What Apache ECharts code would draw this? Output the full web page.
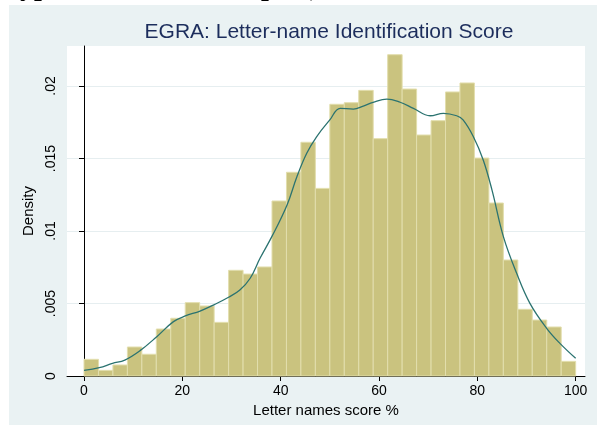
<!DOCTYPE html>
<html>
<head>
<meta charset="utf-8">
<script src="https://cdn.jsdelivr.net/npm/echarts@6/dist/echarts.min.js"></script>
<style>
  html, body { margin: 0; padding: 0; background: #fff; }
  #chart { width: 597px; height: 425px; }
</style>
</head>
<body>
<div id="chart"></div>
<script>
// histogram: 34 bins from 0 to 100, density per bin
var binStart = 0
var binWidth = 100 / 34
var binDensity = [
  0.00115, 0.00039, 0.00076, 0.0020, 0.0015, 0.00324, 0.00398, 0.00506, 0.00483, 0.0037,
  0.00729, 0.00703, 0.00752, 0.01207, 0.01405, 0.01612, 0.01294, 0.01874, 0.01885, 0.0197,
  0.01637, 0.02216, 0.01979, 0.01662, 0.01761, 0.01959, 0.02021, 0.01503, 0.01193, 0.0080,
  0.0046, 0.00386, 0.00338, 0.00101
]

// kernel density curve
var kdeX = [0, 3.1, 5.8, 8.3, 11.4, 14.8, 18.2, 20.6, 23.6, 26.6, 29.4, 31.7, 33.8, 35.8, 38.2,
  41.3, 43.3, 45.3, 47.3, 50, 52.1, 54.8, 56.8, 58.8, 61.6, 64.3, 67, 70.4, 73.1, 75.8, 77.1,
  79.2, 81.2, 83, 85.3, 88, 90.7, 94.1, 96.8, 100]
var kdeY = [0.00039, 0.00057, 0.00087, 0.0011, 0.00175, 0.00271, 0.00375, 0.00414, 0.00448, 0.00494,
  0.00543, 0.00593, 0.00674, 0.00812, 0.00961, 0.0118, 0.01374, 0.01536, 0.0165, 0.01766, 0.01846,
  0.01841, 0.01862, 0.01888, 0.0191, 0.01888, 0.01846, 0.01795, 0.01812, 0.01795, 0.01766, 0.0165,
  0.0149, 0.0128, 0.00961, 0.00708, 0.00501, 0.00329, 0.00225, 0.00122]

var xTicks = [0, 20, 40, 60, 80, 100]
var yTicks = [0, 0.005, 0.01, 0.015, 0.02]

var FONT = 'Liberation Sans, Arial, Helvetica, sans-serif'

var barData = binDensity.map(function (d, i) {
  return [binStart + i * binWidth, binStart + (i + 1) * binWidth, d]
})
var lineData = kdeX.map(function (x, i) { return [x, kdeY[i]] })

var myChart = echarts.init(document.getElementById('chart'))

var option = {
  backgroundColor: '#ffffff',
  animation: false,
  title: {
    text: 'EGRA: Letter-name Identification Score',
    left: 324,
    textAlign: 'center',
    top: 17,
    textStyle: { fontFamily: FONT, fontSize: 21, fontWeight: 'normal', color: '#1c2d5c' }
  },
  graphic: [
    // chart background panel
    { type: 'rect', z: -10, shape: { x: 9, y: 5, width: 600, height: 430 }, style: { fill: '#eaf2f3' } },
    // plot region
    { type: 'rect', z: -9, shape: { x: 67, y: 46, width: 518, height: 330 }, style: { fill: '#ffffff' } },
    // cut-off text line of the surrounding page
    { type: 'text', z: -11, left: 20, top: -26, style: { text: 'yp', font: 'bold 28px Liberation Serif, serif', fill: '#000' } },
    { type: 'text', z: -11, left: 261, top: -26, style: { text: 'p', font: 'bold 28px Liberation Serif, serif', fill: '#000' } },
    { type: 'text', z: -11, left: 303, top: -26, style: { text: '(', font: 'bold 28px Liberation Serif, serif', fill: '#000' } }
  ],
  grid: { left: 67, right: 12, top: 46, bottom: 49 },
  xAxis: {
    type: 'value',
    min: -3.46,
    max: 101.9,
    name: 'Letter names score %',
    nameLocation: 'middle',
    nameGap: 24,
    nameTextStyle: { fontFamily: FONT, fontSize: 15, color: '#000' },
    axisLine: { onZero: false, lineStyle: { color: '#000', width: 1 } },
    axisTick: { customValues: xTicks, length: 5, lineStyle: { color: '#000' } },
    axisLabel: { customValues: xTicks, margin: 8, fontFamily: FONT, fontSize: 14, color: '#000' },
    splitLine: { show: false }
  },
  yAxis: {
    type: 'value',
    min: 0,
    max: 0.02276,
    interval: 0.005,
    name: 'Density',
    nameLocation: 'middle',
    nameGap: 27,
    nameTextStyle: { fontFamily: FONT, fontSize: 15, color: '#000' },
    axisLine: { show: true, lineStyle: { color: '#000', width: 1 } },
    axisTick: { show: true, customValues: yTicks, length: 5, lineStyle: { color: '#000' } },
    axisLabel: {
      customValues: yTicks,
      rotate: 90,
      margin: 9,
      fontFamily: FONT,
      fontSize: 14,
      color: '#000',
      formatter: function (v) {
        if (v === 0) return '0'
        return String(+v.toFixed(3)).replace(/^0/, '')
      }
    },
    splitLine: { show: true, lineStyle: { color: '#e6eef0', width: 1 } }
  },
  series: [
    {
      type: 'custom',
      data: barData,
      encode: { x: [0, 1], y: 2 },
      renderItem: function (params, api) {
        var p0 = api.coord([api.value(0), api.value(2)])
        var p1 = api.coord([api.value(1), 0])
        return {
          type: 'rect',
          shape: { x: p0[0], y: p0[1], width: p1[0] - p0[0], height: p1[1] - p0[1] },
          style: { fill: '#cac37f', stroke: '#e2dead', lineWidth: 1 }
        }
      },
      z: 2
    },
    {
      type: 'line',
      data: lineData,
      smooth: 0.4,
      showSymbol: false,
      lineStyle: { color: '#2b7370', width: 1.3 },
      z: 3
    }
  ]
}

myChart.setOption(option)
</script>
</body>
</html>
